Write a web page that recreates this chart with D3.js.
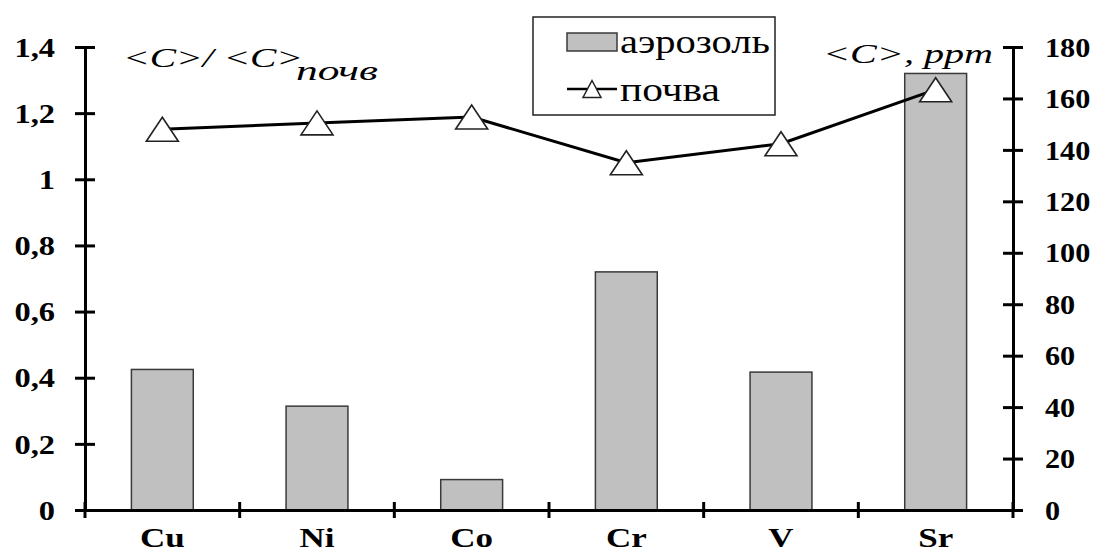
<!DOCTYPE html>
<html>
<head>
<meta charset="utf-8">
<script src="https://cdn.jsdelivr.net/npm/d3@7"></script>
<style>
  body { margin: 0; background: #fff; }
  svg { display: block; }
</style>
</head>
<body>
<div id="chart"></div>
<script>
// dados
const elements = ["Cu", "Ni", "Co", "Cr", "V", "Sr"];
const aerosolRatio = [0.425, 0.314, 0.092, 0.72, 0.417, 1.32];   // barras, eixo esquerdo
const soilPpm = [148, 150.5, 152.8, 135, 142.4, 163.4];           // linha, eixo direito
const leftTicks = [0, 0.2, 0.4, 0.6, 0.8, 1, 1.2, 1.4];
const leftTickLabels = ["0", "0,2", "0,4", "0,6", "0,8", "1", "1,2", "1,4"];
const rightTicks = [0, 20, 40, 60, 80, 100, 120, 140, 160, 180];
const legendLabels = ["аэрозоль", "почва"];

const width = 1101, height = 552;
const x0 = 85, x1 = 1013, yBottom = 510, yTop = 47;
const serif = "'Liberation Serif', 'Times New Roman', serif";

const svg = d3.select("#chart").append("svg")
    .attr("width", width)
    .attr("height", height)
    .attr("font-family", serif);

// escalas
const x = d3.scaleBand().domain(elements).range([x0, x1]).padding(0);
const yLeft = d3.scaleLinear().domain([0, 1.4]).range([yBottom, yTop]);
const yRight = d3.scaleLinear().domain([0, 180]).range([yBottom, yTop]);

const barW = x.bandwidth() * 0.4;

// barras
svg.append("g")
    .selectAll("rect")
    .data(elements)
    .join("rect")
    .attr("x", d => x(d) + (x.bandwidth() - barW) / 2)
    .attr("y", (d, i) => yLeft(aerosolRatio[i]))
    .attr("width", barW)
    .attr("height", (d, i) => yBottom - yLeft(aerosolRatio[i]))
    .style("fill", "#c0c0c0")
    .style("stroke", "#3a3a3a")
    .style("stroke-width", 1.5);

// linha
const line = d3.line()
    .x((d, i) => x(elements[i]) + x.bandwidth() / 2)
    .y(d => yRight(d));

svg.append("path")
    .datum(soilPpm)
    .attr("d", line)
    .style("fill", "none")
    .style("stroke", "#000")
    .style("stroke-width", 3);

function triangle(w, h) {
    return `M0,${-h / 2}L${w / 2},${h / 2}L${-w / 2},${h / 2}Z`;
}

svg.append("g")
    .selectAll("path")
    .data(soilPpm)
    .join("path")
    .attr("d", triangle(32, 24))
    .attr("transform", (d, i) => `translate(${x(elements[i]) + x.bandwidth() / 2},${yRight(d)})`)
    .style("fill", "#fff")
    .style("stroke", "#222")
    .style("stroke-width", 1.6);

// eixos
function styleAxis(g) {
    g.attr("font-family", serif);
    g.select(".domain").style("stroke", "#000").style("stroke-width", 3);
    g.selectAll(".tick line").style("stroke", "#000").style("stroke-width", 3);
    g.selectAll("text")
        .style("font-family", serif)
        .style("font-weight", "bold")
        .style("font-size", "27px")
        .style("fill", "#000");
}

const axL = svg.append("g")
    .attr("transform", `translate(${x0},0)`)
    .call(d3.axisLeft(yLeft).tickValues(leftTicks)
        .tickFormat((d, i) => leftTickLabels[i]).tickSizeOuter(0).tickSize(10))
    .call(styleAxis);
axL.selectAll(".tick line").attr("x1", -10).attr("x2", 10);
axL.selectAll(".tick text")
    .attr("x", null)
    .attr("dy", "0.34em")
    .attr("transform", "translate(-30,0) scale(1.2,1)");

const axR = svg.append("g")
    .attr("transform", `translate(${x1},0)`)
    .call(d3.axisRight(yRight).tickValues(rightTicks).tickSizeOuter(0).tickSize(10))
    .call(styleAxis);
axR.selectAll(".tick line").attr("x1", -10).attr("x2", 10);
axR.selectAll(".tick text")
    .attr("x", null)
    .attr("dy", "0.34em")
    .attr("transform", "translate(32,0) scale(1.12,1)");

const axB = svg.append("g")
    .attr("transform", `translate(0,${yBottom})`)
    .call(d3.axisBottom(x).tickSize(0).tickSizeOuter(0))
    .call(styleAxis);
axB.selectAll(".tick text")
    .attr("y", null)
    .attr("dy", null)
    .style("font-size", "28px")
    .attr("transform", "translate(0,37) scale(1.25,1)");

// marcas entre categorias
const bounds = elements.map(d => x(d)).concat([x1]);
axB.selectAll(".sep")
    .data(bounds)
    .join("line")
    .attr("class", "sep")
    .attr("x1", d => d).attr("x2", d => d)
    .attr("y1", -8).attr("y2", 8)
    .style("stroke", "#000")
    .style("stroke-width", 3);

// títulos dos eixos
const tL = svg.append("text")
    .style("font-family", serif)
    .style("font-style", "italic")
    .style("font-size", "27px")
    .style("fill", "#000");
tL.append("tspan").attr("x", 123).attr("y", 67)
    .attr("textLength", 180).attr("lengthAdjust", "spacingAndGlyphs")
    .text("<C>/ <C>");
tL.append("tspan").attr("x", 296).attr("y", 80)
    .attr("textLength", 82).attr("lengthAdjust", "spacingAndGlyphs")
    .text("почв");

svg.append("text")
    .attr("x", 823).attr("y", 63)
    .attr("textLength", 170).attr("lengthAdjust", "spacingAndGlyphs")
    .style("font-family", serif)
    .style("font-style", "italic")
    .style("font-size", "28px")
    .style("fill", "#000")
    .text("<C>, ppm");

// legenda
const lg = svg.append("g");
lg.append("rect")
    .attr("x", 533).attr("y", 17).attr("width", 242).attr("height", 98)
    .style("fill", "#fff").style("stroke", "#222").style("stroke-width", 1.5);
lg.append("rect")
    .attr("x", 567).attr("y", 33).attr("width", 50).attr("height", 18)
    .style("fill", "#c0c0c0").style("stroke", "#3a3a3a").style("stroke-width", 1.5);
lg.append("line")
    .attr("x1", 567).attr("x2", 617).attr("y1", 89).attr("y2", 89)
    .style("stroke", "#000").style("stroke-width", 2.5);
lg.append("path")
    .attr("d", triangle(18, 17))
    .attr("transform", "translate(592,89)")
    .style("fill", "#fff").style("stroke", "#222").style("stroke-width", 1.5);
lg.selectAll(".lt")
    .data(legendLabels)
    .join("text")
    .attr("class", "lt")
    .attr("x", 620)
    .attr("y", (d, i) => i === 0 ? 53 : 101)
    .attr("textLength", (d, i) => i === 0 ? 150 : 100)
    .attr("lengthAdjust", "spacingAndGlyphs")
    .style("font-family", serif)
    .style("font-size", "33px")
    .style("fill", "#000")
    .text(d => d);
</script>
</body>
</html>
